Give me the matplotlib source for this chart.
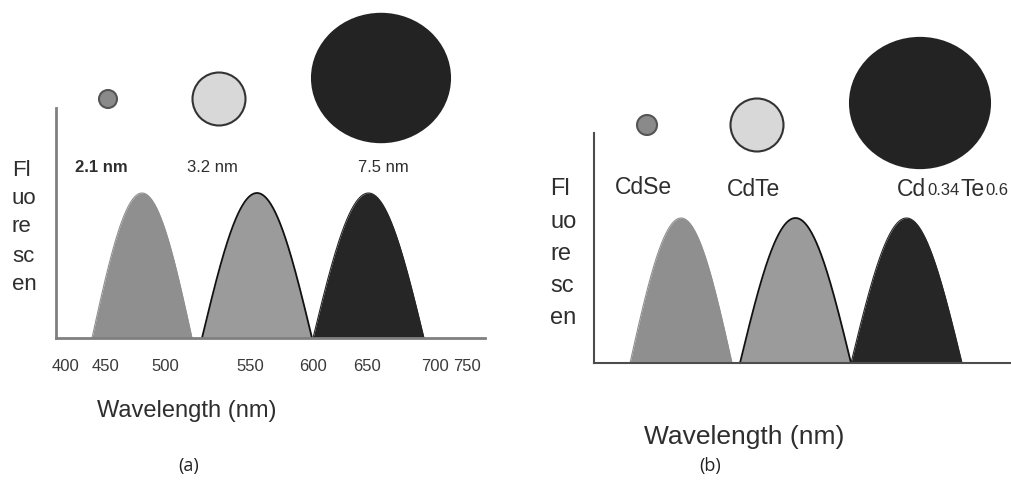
import numpy as np
import matplotlib.pyplot as plt
from matplotlib.patches import Ellipse

plt.rcParams['font.family'] = ['Liberation Sans', 'DejaVu Sans']

# x is a position along each axis (arbitrary units, axis spans 0..430)
a_tick_pos = [9, 49, 109, 194, 257, 311, 379, 411]
a_tick_labels = ['400', '450', '500', '550', '600', '650', '700', '750']

# emission peaks: start / end along the axis, peak height (a.u.)
a_peak_start = [36, 146, 257]
a_peak_end = [136, 256, 368]
b_peak_start = [36, 146, 257]
b_peak_end = [138, 257, 368]
peak_height = [145, 145, 145]

# dot (particle) sketches above the peaks
a_dot_x = [52, 163, 325]
a_dot_y = [239, 239, 260]
a_dot_d = [18, 53, 138]
b_dot_x = [53, 163, 326]
b_dot_y = [238, 238, 260]
b_dot_d = [20, 53, 140]
dot_aspect = [1.0, 1.0, 0.93]

a_names = ['2.1 nm', '3.2 nm', '7.5 nm']
b_names = ['CdSe', 'CdTe']

peak_fill = ['#8f8f8f', '#9b9b9b', '#262626']
peak_edge = ['#8f8f8f', '#111111', '#262626']
dot_fill = ['#8a8a8a', '#d8d8d8', '#232323']
dot_edge = ['#555555', '#333333', '#232323']
ylab = ['Fl', 'uo', 're', 'sc', 'en']
txt = '#2e2e2e'

fig = plt.figure(figsize=(10.12, 4.8), dpi=100)
W, H = 1012.0, 480.0
axa = fig.add_axes([56 / W, 142 / H, 429 / W, 230 / H])
axb = fig.add_axes([594 / W, 117 / H, 418 / W, 230 / H])


def draw_panel(ax, starts, ends, dx, dy, dd, spine_col, spine_lw):
    ax.set_xlim(0, ax.bbox.width * 100 / fig.dpi)
    ax.set_ylim(0, 230)
    for s, e, h, fc, ec in zip(starts, ends, peak_height, peak_fill, peak_edge):
        x = np.linspace(s, e, 200)
        y = h * np.sin(np.pi * (x - s) / (e - s))
        ax.fill_between(x, 0, y, color=fc, lw=0)
        ax.plot(x, y, color=ec, lw=1.3 if ec != fc else 0.8)
    for x0, y0, d, asp, fc, ec in zip(dx, dy, dd, dot_aspect, dot_fill, dot_edge):
        ax.add_patch(Ellipse((x0, y0), d, d * asp, facecolor=fc, edgecolor=ec,
                             lw=1.5, clip_on=False, zorder=3))
    for k in ['top', 'right']:
        ax.spines[k].set_visible(False)
    for k in ['left', 'bottom']:
        ax.spines[k].set_color(spine_col)
        ax.spines[k].set_linewidth(spine_lw)
    ax.set_yticks([])


draw_panel(axa, a_peak_start, a_peak_end, a_dot_x, a_dot_y, a_dot_d, '#808080', 2.0)
draw_panel(axb, b_peak_start, b_peak_end, b_dot_x, b_dot_y, b_dot_d, '#4d4d4d', 1.5)

axa.set_xticks(a_tick_pos)
axa.set_xticklabels(a_tick_labels, fontsize=12, color='#3a3a3a')
axa.tick_params(axis='x', length=0, pad=15)
axb.set_xticks([])

# particle size labels
for i, (name, x) in enumerate(zip(a_names, [19, 131, 302])):
    axa.text(x, 171, name, fontsize=12, color=txt, ha='left', va='center',
             fontweight='bold' if i == 0 else 'normal')
for name, x, y in zip(b_names, [49, 160], [176, 173]):
    axb.text(x, y, name, fontsize=16.5, color=txt, ha='center', va='center')
t = axb.text(303, 173, 'Cd', fontsize=16.5, color=txt, ha='left', va='center', clip_on=False)
t = axb.annotate('0.34', xy=(1, 0), xycoords=t, xytext=(0.8, 2.6), textcoords='offset points',
                 fontsize=12, color=txt, va='bottom')
t = axb.annotate('Te', xy=(1, 0), xycoords=t, xytext=(0.8, -2.6), textcoords='offset points',
                 fontsize=16.5, color=txt, va='bottom')
t = axb.annotate('0.6', xy=(1, 0), xycoords=t, xytext=(0.5, 2.6), textcoords='offset points',
                 fontsize=12, color=txt, va='bottom')

# broken-up y label
for s, y in zip(ylab, [168, 139, 111, 82, 54]):
    axa.text(-44, y, s, fontsize=16, color=txt, ha='left', va='center')
for s, y in zip(ylab, [174, 141, 109, 77, 45]):
    axb.text(-44, y, s, fontsize=17, color=txt, ha='left', va='center')

axa.text(131, -73, 'Wavelength (nm)', fontsize=17, color=txt, ha='center', va='center')
axb.text(150, -74, 'Wavelength (nm)', fontsize=19, color=txt, ha='center', va='center')
axa.text(133, -128, '(a)', fontsize=13, color='#222222', ha='center', va='center',
         family=['Open Sans', 'DejaVu Sans'])
axb.text(116, -103, '(b)', fontsize=13, color='#222222', ha='center', va='center',
         family=['Open Sans', 'DejaVu Sans'])

fig.savefig('out.png', dpi=100)
